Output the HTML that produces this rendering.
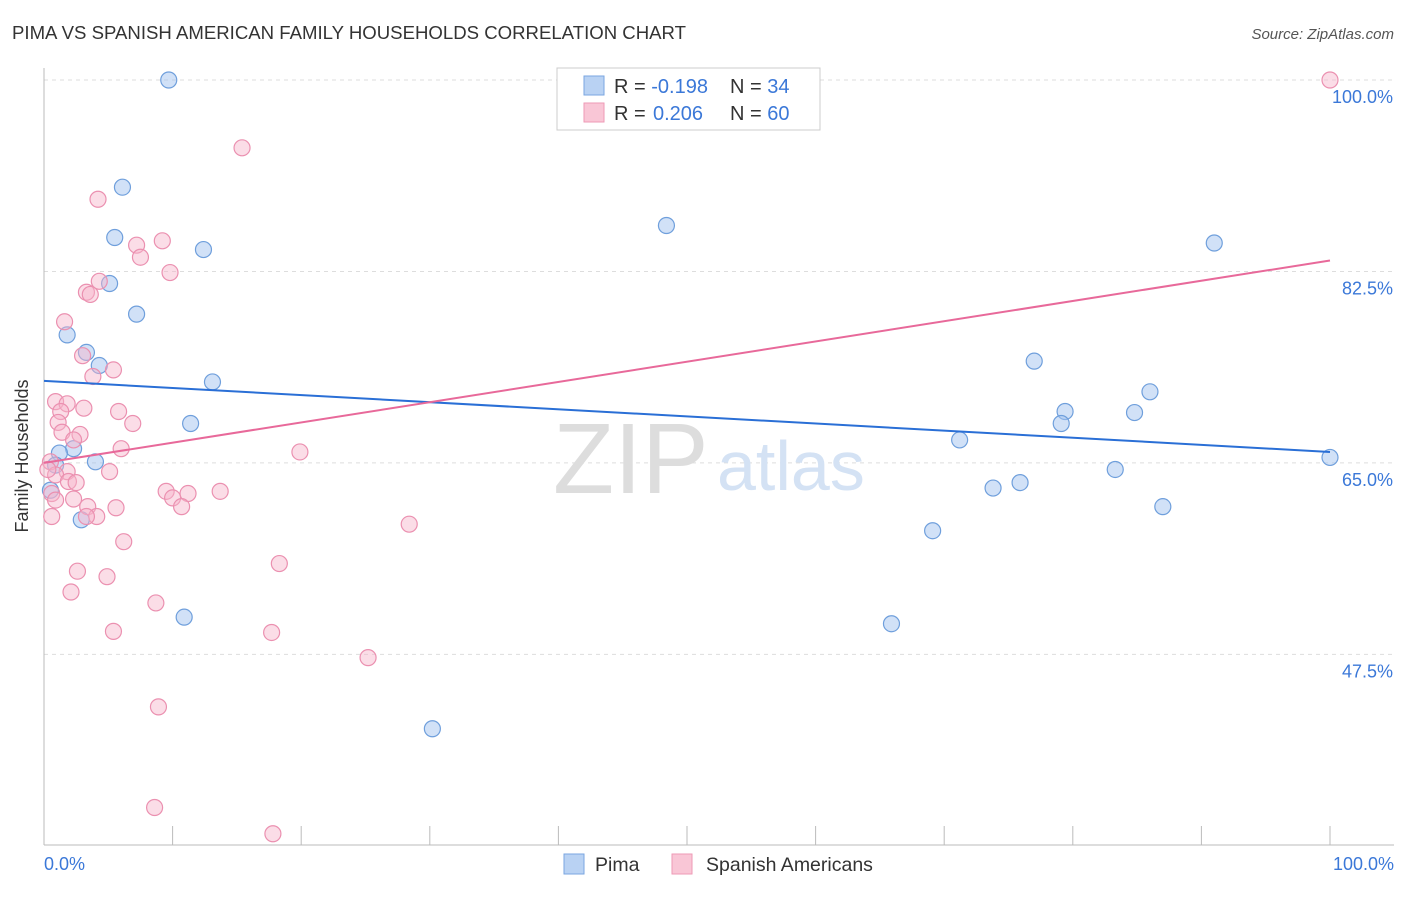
<!DOCTYPE html>
<html><head><meta charset="utf-8"><style>
body{margin:0;background:#fff;font-family:"Liberation Sans",sans-serif;}
svg text{font-family:"Liberation Sans",sans-serif;}
</style></head><body>
<svg id="chart" width="1406" height="892" viewBox="0 0 1406 892">
<text x="12" y="39" font-size="18.6" fill="#333">PIMA VS SPANISH AMERICAN FAMILY HOUSEHOLDS CORRELATION CHART</text>
<text x="1394" y="39" font-size="15" fill="#555" font-style="italic" text-anchor="end">Source: ZipAtlas.com</text>
<g id="grid"></g>
<g>
<text x="553" y="493" font-size="100" fill="#ddd" font-family="Liberation Serif">ZIP</text>
<text x="717" y="490" font-size="70" fill="#d4e2f4">atlas</text>
</g>
<line x1="44" y1="68" x2="44" y2="845" stroke="#bbb"/>
<line x1="44" y1="845" x2="1394" y2="845" stroke="#bbb"/>
<text x="28" y="456" font-size="18" fill="#333" text-anchor="middle" transform="rotate(-90 28 456)">Family Households</text>
<text x="44" y="870" font-size="18" fill="#3b78d8">0.0%</text>
<text x="1394" y="870" font-size="18" fill="#3b78d8" text-anchor="end">100.0%</text>
<g id="marks"></g>
<g>
<rect x="557" y="68" width="263" height="62" fill="#fff" stroke="#ccc"/>
<rect x="584" y="76" width="20" height="19" fill="#b9d2f3" stroke="#7aa6e0"/>
<rect x="584" y="103" width="20" height="19" fill="#f9c6d6" stroke="#ee9ab6"/>
<text x="614" y="93" font-size="20" fill="#333">R = <tspan fill="#3b78d8">-0.198</tspan><tspan x="730">N = </tspan><tspan fill="#3b78d8">34</tspan></text>
<text x="614" y="120" font-size="20" fill="#333">R = <tspan fill="#3b78d8" x="653">0.206</tspan><tspan x="730">N = </tspan><tspan fill="#3b78d8">60</tspan></text>
</g>
<g>
<rect x="564" y="854" width="20" height="20" fill="#b9d2f3" stroke="#7aa6e0"/>
<text x="595" y="871" font-size="19.5" fill="#333">Pima</text>
<rect x="672" y="854" width="20" height="20" fill="#f9c6d6" stroke="#ee9ab6"/>
<text x="706" y="871" font-size="19.5" fill="#333">Spanish Americans</text>
</g>
</svg>
<script>
const yTicks=[100,82.5,65,47.5];
const yTickLabels=["100.0%","82.5%","65.0%","47.5%"];
const xTicks=[10,20,30,40,50,60,70,80,90,100];
const pimaX=[9.7,6.1,5.5,12.4,5.1,7.2,1.8,3.3,4.3,13.1,11.4,2.3,1.2,4.0,0.5,2.9,10.9,30.2,48.4,91.0,77.0,86.0,79.4,84.8,79.1,71.2,83.3,73.8,75.9,87.0,69.1,65.9,100,0.9];
const pimaY=[100,90.2,85.6,84.5,81.4,78.6,76.7,75.1,73.9,72.4,68.6,66.3,65.9,65.1,62.5,59.8,50.9,40.7,86.7,85.1,74.3,71.5,69.7,69.6,68.6,67.1,64.4,62.7,63.2,61.0,58.8,50.3,65.5,64.8];
const spanX=[100,15.4,4.2,9.2,7.2,7.5,9.8,4.3,3.3,3.6,1.6,3.0,5.4,3.8,0.9,1.8,3.1,1.3,5.8,1.1,6.9,2.8,1.4,2.3,6.0,19.9,0.5,5.1,1.8,0.9,0.3,1.9,2.5,0.6,9.5,13.7,11.2,10.0,2.3,0.9,3.4,5.6,10.7,4.1,3.3,0.6,28.4,6.2,18.3,2.6,4.9,2.1,8.7,5.4,17.7,25.2,8.9,8.6,17.8];
const spanY=[100,93.8,89.1,85.3,84.9,83.8,82.4,81.6,80.6,80.4,77.9,74.8,73.5,72.9,70.6,70.4,70.0,69.7,69.7,68.7,68.6,67.6,67.8,67.1,66.3,66.0,65.1,64.2,64.2,63.9,64.4,63.3,63.2,62.2,62.4,62.4,62.2,61.8,61.7,61.6,61.0,60.9,61.0,60.1,60.1,60.1,59.4,57.8,55.8,55.1,54.6,53.2,52.2,49.6,49.5,47.2,42.7,33.5,31.1];
const pimaTrend=[72.5,66.0];
const spanTrend=[65.0,83.5];
const NS="http://www.w3.org/2000/svg";
const xs=v=>44+v*12.86;
const ys=v=>80+(100-v)*10.94;
function mk(tag,attrs,parent){const e=document.createElementNS(NS,tag);for(const k in attrs)e.setAttribute(k,attrs[k]);parent.appendChild(e);return e;}
const grid=document.getElementById('grid');
yTicks.forEach((t,i)=>{
  const l=mk('line',{x1:44,x2:1394,y1:ys(t),y2:ys(t),stroke:'#ddd','stroke-dasharray':'4,4'},grid);
  
  
  const tx=mk('text',{x:1393,y:ys(t)+23,'font-size':18,fill:'#3b78d8','text-anchor':'end'},grid);
  tx.textContent=yTickLabels[i];
  
  
});
xTicks.forEach(t=>{
  const l=mk('line',{x1:xs(t),x2:xs(t),y1:826,y2:845,stroke:'#bbb'},grid);
  
  
});
const marks=document.getElementById('marks');
pimaX.forEach((x,i)=>{
  const c=mk('circle',{cx:xs(x),cy:ys(pimaY[i]),r:8,fill:'rgba(164,196,240,0.5)',stroke:'#6f9fdc','stroke-width':1.2},marks);
  
  
});
spanX.forEach((x,i)=>{
  const c=mk('circle',{cx:xs(x),cy:ys(spanY[i]),r:8,fill:'rgba(246,180,202,0.45)',stroke:'#eb90b0','stroke-width':1.2},marks);
  
  
});
const l1=mk('line',{x1:xs(0),y1:ys(pimaTrend[0]),x2:xs(100),y2:ys(pimaTrend[1]),stroke:'#2a6fd6','stroke-width':2},marks);


const l2=mk('line',{x1:xs(0),y1:ys(spanTrend[0]),x2:xs(100),y2:ys(spanTrend[1]),stroke:'#e8699a','stroke-width':2},marks);


</script>
</body></html>
